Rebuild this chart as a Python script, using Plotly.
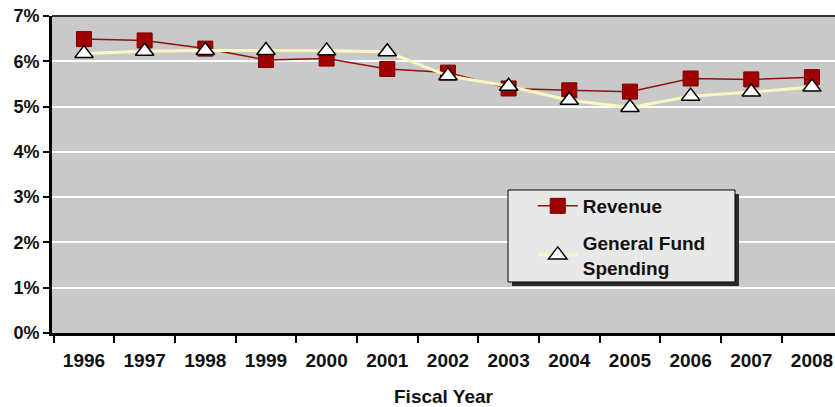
import plotly.graph_objects as go

years = ["1996", "1997", "1998", "1999", "2000", "2001", "2002",
         "2003", "2004", "2005", "2006", "2007", "2008"]
revenue = [6.49, 6.46, 6.28, 6.03, 6.06, 5.83, 5.75, 5.40, 5.36, 5.33, 5.62, 5.60, 5.65]
gf_spending = [6.17, 6.22, 6.24, 6.24, 6.23, 6.21, 5.68, 5.45, 5.14, 4.98, 5.23, 5.32, 5.43]
y_ticks = [0, 1, 2, 3, 4, 5, 6, 7]
y_labels = [f"{v}%" for v in y_ticks]

FONT = "Liberation Sans, Arial, sans-serif"

fig = go.Figure()
fig.add_trace(go.Scatter(
    x=years, y=revenue, name="Revenue", mode="lines+markers", legendgroup="a",
    line=dict(color="#8f1010", width=1.5),
    marker=dict(symbol="square", size=15, color="#a00000",
                line=dict(color="#7a0000", width=1)),
))
fig.add_trace(go.Scatter(
    x=years, y=gf_spending, name="General Fund<br>Spending", mode="lines+markers",
    legendgroup="b",
    line=dict(color="#fbf7c0", width=3),
    marker=dict(symbol="triangle-up", size=16, color="white",
                line=dict(color="black", width=1.5)),
))

fig.update_layout(
    width=835, height=407,
    margin=dict(l=52, r=0, t=16, b=74),
    paper_bgcolor="white", plot_bgcolor="#c9c9c9",
    font=dict(family=FONT, size=16, color="#222222"),
    showlegend=True,
    legend=dict(
        x=0.614, y=0.4606, xanchor="left", yanchor="top",
        bgcolor="rgba(0,0,0,0)", borderwidth=0,
        font=dict(family=FONT, size=19, color="#111111", weight="bold"),
        itemwidth=40, tracegroupgap=9,
    ),
    xaxis=dict(
        type="category", range=[-0.527, 12.38], automargin=False,
        showline=True, linecolor="black", linewidth=3,
        ticks="outside", tickson="boundaries", ticklen=7, tickwidth=2, tickcolor="black",
        ticklabelstandoff=8,
        showgrid=False,
        tickfont=dict(family=FONT, size=19, weight="bold", color="#111111"),
        title=dict(text="Fiscal Year", standoff=33,
                   font=dict(family=FONT, size=19, weight="bold", color="#111111")),
    ),
    yaxis=dict(
        range=[0, 7], tickvals=y_ticks, ticktext=y_labels, automargin=False,
        showline=True, linecolor="black", linewidth=3,
        ticks="outside", ticklen=6, tickwidth=2, tickcolor="black",
        showgrid=True, gridcolor="white", gridwidth=1.5,
        zeroline=False,
        tickfont=dict(family=FONT, size=18, weight="bold", color="#111111"),
    ),
)

# top frame line
fig.add_shape(type="line", xref="paper", yref="paper", x0=0, x1=1, y0=1, y1=1,
              line=dict(color="#333333", width=2))
# legend shadow and box
fig.add_shape(type="rect", xref="paper", yref="paper",
              x0=0.5875, x1=0.8774, y0=0.1483, y1=0.4385,
              line=dict(width=0), fillcolor="#2a2a2a", layer="above")
fig.add_shape(type="rect", xref="paper", yref="paper",
              x0=0.5824, x1=0.8723, y0=0.1609, y1=0.4511,
              line=dict(color="black", width=1), fillcolor="#e8e8e8", layer="above")

# remove the default page margin so the figure fills the window exactly
fig.write_html("out.html", config={"displayModeBar": False},
               post_script="document.body.style.margin='0px';")
